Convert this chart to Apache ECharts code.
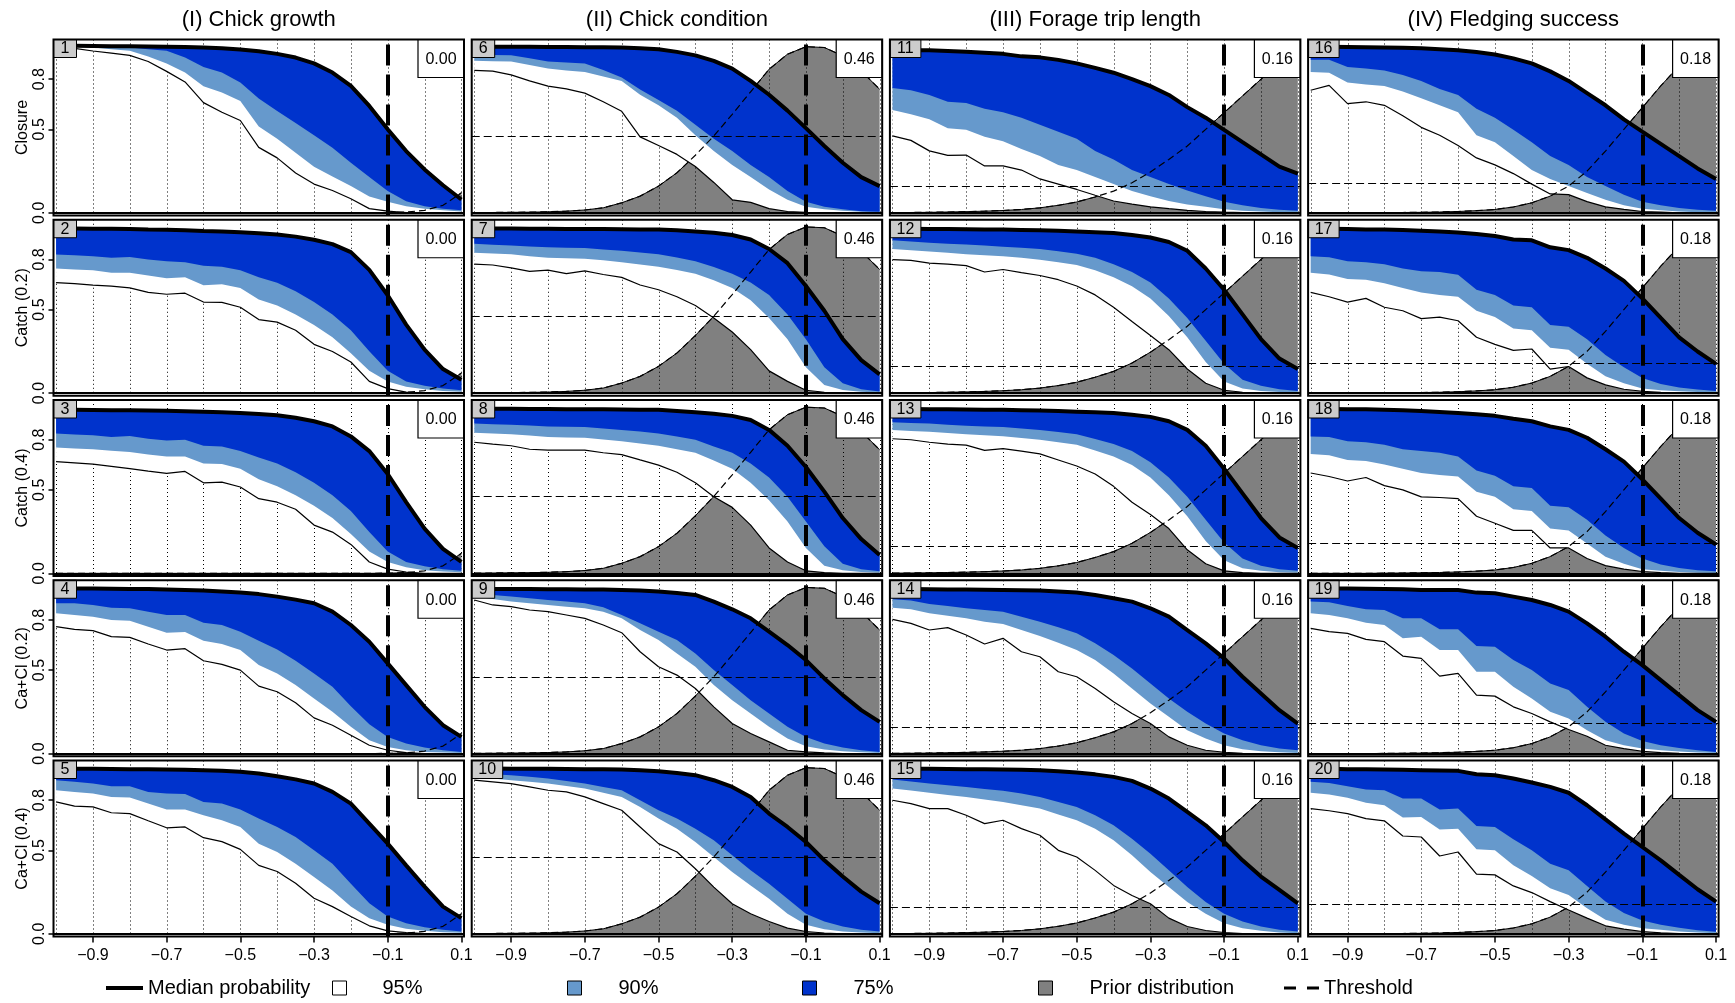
<!DOCTYPE html>
<html><head><meta charset="utf-8">
<script src="https://cdn.jsdelivr.net/npm/echarts@6/dist/echarts.min.js"></script>
<style>html,body{margin:0;padding:0;background:#fff}#chart{width:1735px;height:1003px}</style>
</head><body><div id="chart"></div>
<script>
// ---------- data ----------
const xValues = [-1.0,-0.95,-0.9,-0.85,-0.8,-0.75,-0.7,-0.65,-0.6,-0.55,-0.5,-0.45,-0.4,-0.35,-0.3,-0.25,-0.2,-0.15,-0.1,-0.05,0.0,0.05,0.1];
const columnTitles = ['(I) Chick growth','(II) Chick condition','(III) Forage trip length','(IV) Fledging success'];
const rowLabels = ['Closure','Catch (0.2)','Catch (0.4)','Ca+Cl (0.2)','Ca+Cl (0.4)'];
const boxValues = [0.00, 0.46, 0.16, 0.18];
const thresholdX = -0.1;
const xTickValues = [-0.9,-0.7,-0.5,-0.3,-0.1,0.1];
const yTickValues = [0, 0.5, 0.8];
const gridLineX = [-1.0,-0.9,-0.8,-0.7,-0.6,-0.5,-0.4,-0.3,-0.2,-0.1,0.0,0.1];

const prior1 = [0,0,0,0,0,0,0,0,0,0,0,0,0,0,0,0,0,0,0.001,0.004,0.015,0.045,0.12];
const prior2 = [0.001,0.002,0.003,0.004,0.006,0.01,0.017,0.03,0.06,0.1,0.16,0.24,0.345,0.46,0.59,0.725,0.86,0.95,0.995,0.99,0.94,0.85,0.74];
const prior3 = [0.001,0.002,0.003,0.005,0.007,0.01,0.014,0.02,0.03,0.045,0.065,0.095,0.13,0.18,0.245,0.32,0.4,0.5,0.6,0.7,0.8,0.9,1.0];
const prior4 = [0,0,0,0,0.001,0.002,0.003,0.005,0.008,0.013,0.02,0.035,0.06,0.1,0.16,0.25,0.37,0.5,0.63,0.76,0.88,0.97,1.0];

// (I) Chick growth
const p1_med = [1.0,1.0,0.999,0.998,0.997,0.996,0.995,0.993,0.99,0.985,0.978,0.967,0.952,0.93,0.895,0.84,0.76,0.64,0.5,0.37,0.26,0.165,0.08];
const p1_lo75 = [1.0,0.999,0.997,0.993,0.99,0.98,0.97,0.93,0.873,0.84,0.78,0.685,0.61,0.538,0.465,0.39,0.30,0.214,0.13,0.07,0.04,0.025,0.015];
const p1_lo90 = [1.0,0.995,0.99,0.98,0.97,0.936,0.894,0.84,0.758,0.72,0.67,0.517,0.444,0.36,0.276,0.218,0.161,0.098,0.067,0.04,0.025,0.015,0.008];
const p1_lo95 = [1.0,0.985,0.969,0.956,0.943,0.906,0.847,0.784,0.66,0.602,0.553,0.392,0.329,0.239,0.172,0.134,0.084,0.025,0.01,0.002,0,0,0];

const p2_med = [0.985,0.985,0.984,0.984,0.983,0.98,0.978,0.975,0.97,0.967,0.963,0.957,0.949,0.937,0.918,0.892,0.844,0.738,0.586,0.41,0.26,0.144,0.08];
const p2_lo75 = [0.83,0.825,0.82,0.81,0.815,0.8,0.79,0.784,0.763,0.757,0.736,0.693,0.66,0.61,0.545,0.47,0.376,0.25,0.133,0.07,0.044,0.027,0.017];
const p2_lo90 = [0.746,0.74,0.736,0.72,0.72,0.704,0.687,0.693,0.645,0.651,0.63,0.56,0.524,0.47,0.408,0.334,0.239,0.133,0.07,0.038,0.023,0.013,0.008];
const p2_lo95 = [0.662,0.655,0.647,0.64,0.63,0.603,0.592,0.598,0.545,0.543,0.514,0.44,0.425,0.376,0.292,0.249,0.186,0.07,0.027,0.006,0,0,0];

const p3_med = [0.979,0.979,0.978,0.977,0.976,0.975,0.973,0.971,0.968,0.964,0.96,0.954,0.947,0.932,0.911,0.88,0.82,0.732,0.595,0.426,0.268,0.146,0.068];
const p3_lo75 = [0.838,0.832,0.827,0.816,0.823,0.806,0.795,0.8,0.764,0.76,0.732,0.694,0.658,0.605,0.542,0.468,0.373,0.247,0.131,0.068,0.042,0.025,0.015];
const p3_lo90 = [0.753,0.748,0.743,0.734,0.726,0.711,0.7,0.7,0.658,0.654,0.627,0.563,0.521,0.468,0.405,0.331,0.236,0.131,0.068,0.036,0.019,0.011,0.006];
const p3_lo95 = [0.669,0.662,0.654,0.641,0.627,0.612,0.599,0.61,0.542,0.546,0.517,0.447,0.426,0.384,0.289,0.247,0.173,0.068,0.025,0.008,0,0,0];

const p4_med = [0.99,0.989,0.988,0.987,0.986,0.985,0.983,0.98,0.976,0.971,0.964,0.955,0.94,0.922,0.9,0.85,0.77,0.67,0.54,0.41,0.28,0.17,0.1];
const p4_lo75 = [0.9,0.9,0.89,0.874,0.87,0.85,0.83,0.83,0.784,0.77,0.73,0.676,0.624,0.556,0.48,0.4,0.284,0.176,0.1,0.06,0.036,0.02,0.01];
const p4_lo90 = [0.84,0.83,0.82,0.8,0.796,0.76,0.724,0.728,0.676,0.656,0.62,0.53,0.48,0.41,0.33,0.25,0.16,0.08,0.04,0.02,0.01,0.006,0.004];
const p4_lo95 = [0.76,0.744,0.736,0.7,0.696,0.656,0.62,0.628,0.556,0.534,0.5,0.404,0.37,0.304,0.214,0.17,0.11,0.05,0.02,0.006,0,0,0];

const p5_med = [0.99,0.989,0.988,0.987,0.986,0.985,0.984,0.982,0.98,0.976,0.97,0.96,0.944,0.925,0.9,0.85,0.78,0.66,0.54,0.41,0.283,0.163,0.094];
const p5_lo75 = [0.92,0.91,0.9,0.884,0.884,0.85,0.84,0.837,0.79,0.78,0.745,0.69,0.64,0.58,0.5,0.42,0.3,0.183,0.104,0.064,0.04,0.024,0.014];
const p5_lo90 = [0.86,0.85,0.84,0.82,0.817,0.78,0.745,0.745,0.71,0.68,0.64,0.54,0.49,0.42,0.34,0.26,0.163,0.094,0.054,0.03,0.018,0.01,0.006];
const p5_lo95 = [0.79,0.765,0.76,0.725,0.72,0.677,0.635,0.64,0.576,0.552,0.506,0.41,0.373,0.303,0.213,0.163,0.104,0.048,0.018,0.008,0.002,0,0];

// (II) Chick condition
const p6_med = [0.994,0.994,0.994,0.994,0.993,0.993,0.992,0.991,0.99,0.986,0.98,0.964,0.943,0.91,0.864,0.79,0.707,0.612,0.507,0.4,0.3,0.214,0.16];
const p6_lo75 = [0.947,0.945,0.943,0.925,0.906,0.9,0.895,0.855,0.811,0.738,0.675,0.612,0.528,0.444,0.371,0.287,0.214,0.13,0.067,0.036,0.021,0.01,0.006];
const p6_lo90 = [0.91,0.908,0.906,0.885,0.864,0.853,0.843,0.816,0.79,0.707,0.644,0.57,0.465,0.371,0.287,0.214,0.14,0.078,0.036,0.021,0.013,0.006,0.004];
const p6_lo95 = [0.853,0.849,0.826,0.79,0.759,0.742,0.717,0.665,0.608,0.455,0.403,0.35,0.277,0.182,0.078,0.063,0.025,0.008,0.003,0.001,0,0,0];

const p7_med = [0.985,0.985,0.985,0.984,0.984,0.983,0.983,0.982,0.981,0.98,0.979,0.975,0.968,0.96,0.947,0.92,0.863,0.778,0.641,0.493,0.323,0.197,0.112];
const p7_lo75 = [0.894,0.889,0.884,0.878,0.873,0.871,0.869,0.86,0.852,0.842,0.831,0.812,0.789,0.755,0.715,0.662,0.588,0.471,0.323,0.154,0.059,0.023,0.01];
const p7_lo90 = [0.841,0.836,0.831,0.82,0.81,0.807,0.805,0.795,0.784,0.77,0.757,0.737,0.715,0.675,0.63,0.556,0.45,0.323,0.154,0.049,0.019,0.008,0.004];
const p7_lo95 = [0.772,0.767,0.75,0.729,0.736,0.715,0.732,0.71,0.693,0.647,0.619,0.577,0.524,0.45,0.366,0.26,0.133,0.07,0.017,0.005,0,0,0];

const p8_med = [0.985,0.985,0.985,0.984,0.984,0.983,0.983,0.982,0.981,0.98,0.979,0.972,0.964,0.955,0.943,0.918,0.859,0.764,0.637,0.489,0.331,0.205,0.11];
const p8_lo75 = [0.897,0.893,0.89,0.885,0.88,0.878,0.876,0.868,0.859,0.849,0.838,0.82,0.8,0.76,0.722,0.658,0.574,0.458,0.31,0.162,0.057,0.025,0.013];
const p8_lo90 = [0.842,0.837,0.833,0.825,0.816,0.814,0.812,0.802,0.791,0.778,0.764,0.743,0.722,0.675,0.627,0.542,0.437,0.31,0.152,0.046,0.019,0.008,0.004];
const p8_lo95 = [0.785,0.774,0.764,0.743,0.738,0.738,0.738,0.722,0.711,0.679,0.648,0.605,0.542,0.458,0.395,0.289,0.152,0.068,0.015,0.004,0,0,0];

const p9_med = [0.986,0.986,0.985,0.985,0.984,0.984,0.983,0.982,0.98,0.976,0.97,0.962,0.95,0.91,0.864,0.81,0.73,0.65,0.56,0.45,0.35,0.26,0.19];
const p9_lo75 = [0.96,0.95,0.94,0.93,0.92,0.91,0.9,0.876,0.83,0.78,0.73,0.68,0.6,0.5,0.41,0.32,0.24,0.16,0.1,0.06,0.036,0.02,0.01];
const p9_lo90 = [0.94,0.925,0.91,0.9,0.89,0.88,0.87,0.85,0.81,0.74,0.68,0.6,0.52,0.41,0.32,0.24,0.16,0.09,0.044,0.024,0.014,0.008,0.004];
const p9_lo95 = [0.92,0.89,0.88,0.86,0.85,0.83,0.81,0.77,0.724,0.61,0.52,0.47,0.39,0.28,0.18,0.12,0.07,0.02,0.01,0.004,0,0,0];

const p10_med = [0.99,0.99,0.989,0.989,0.988,0.987,0.986,0.985,0.984,0.98,0.974,0.963,0.95,0.92,0.88,0.82,0.72,0.64,0.55,0.44,0.343,0.253,0.183];
const p10_lo75 = [0.96,0.955,0.95,0.94,0.93,0.915,0.9,0.88,0.86,0.8,0.74,0.69,0.63,0.56,0.47,0.38,0.3,0.21,0.12,0.074,0.044,0.024,0.014];
const p10_lo90 = [0.94,0.93,0.92,0.91,0.9,0.885,0.87,0.845,0.82,0.76,0.69,0.63,0.55,0.46,0.37,0.29,0.21,0.12,0.054,0.028,0.014,0.008,0.004];
const p10_lo95 = [0.92,0.91,0.9,0.88,0.86,0.85,0.82,0.78,0.74,0.64,0.54,0.49,0.39,0.28,0.18,0.12,0.074,0.034,0.014,0.005,0,0,0];

// (III) Forage trip length
const p11_med = [0.973,0.973,0.973,0.969,0.964,0.958,0.952,0.937,0.931,0.916,0.895,0.868,0.839,0.801,0.759,0.706,0.633,0.57,0.497,0.423,0.35,0.277,0.235];
const p11_lo75 = [0.748,0.734,0.706,0.665,0.658,0.623,0.602,0.57,0.528,0.486,0.444,0.371,0.319,0.256,0.214,0.172,0.134,0.099,0.067,0.046,0.029,0.019,0.013];
const p11_lo90 = [0.616,0.591,0.56,0.507,0.497,0.455,0.428,0.382,0.34,0.287,0.256,0.214,0.172,0.13,0.099,0.071,0.05,0.036,0.021,0.013,0.008,0.004,0.002];
const p11_lo95 = [0.461,0.434,0.371,0.344,0.346,0.281,0.281,0.256,0.203,0.172,0.14,0.105,0.071,0.052,0.036,0.025,0.015,0.008,0.004,0.002,0,0,0];

const p12_med = [0.985,0.984,0.983,0.982,0.981,0.98,0.979,0.977,0.975,0.972,0.968,0.963,0.958,0.947,0.932,0.905,0.852,0.746,0.619,0.471,0.323,0.207,0.144];
const p12_lo75 = [0.915,0.908,0.9,0.895,0.89,0.884,0.877,0.87,0.863,0.85,0.835,0.81,0.772,0.725,0.662,0.567,0.45,0.313,0.175,0.08,0.044,0.023,0.013];
const p12_lo90 = [0.863,0.856,0.848,0.84,0.831,0.826,0.82,0.81,0.799,0.784,0.767,0.736,0.693,0.64,0.567,0.461,0.334,0.186,0.07,0.027,0.013,0.006,0.004];
const p12_lo95 = [0.799,0.795,0.778,0.772,0.763,0.725,0.74,0.721,0.704,0.679,0.641,0.588,0.514,0.429,0.345,0.26,0.144,0.059,0.017,0.005,0,0,0];

const p13_med = [0.985,0.984,0.983,0.982,0.981,0.98,0.979,0.977,0.975,0.972,0.968,0.964,0.96,0.949,0.937,0.911,0.859,0.764,0.627,0.479,0.331,0.215,0.152];
const p13_lo75 = [0.905,0.901,0.897,0.89,0.884,0.88,0.876,0.868,0.859,0.846,0.833,0.805,0.774,0.732,0.665,0.574,0.458,0.321,0.184,0.089,0.046,0.025,0.015];
const p13_lo90 = [0.859,0.853,0.848,0.84,0.833,0.827,0.821,0.81,0.8,0.785,0.77,0.735,0.7,0.648,0.574,0.468,0.342,0.194,0.078,0.03,0.015,0.006,0.004];
const p13_lo95 = [0.806,0.8,0.785,0.774,0.768,0.736,0.747,0.732,0.715,0.679,0.643,0.595,0.521,0.426,0.352,0.268,0.141,0.057,0.015,0.004,0,0,0];

const p14_med = [0.986,0.985,0.984,0.983,0.982,0.981,0.98,0.978,0.976,0.971,0.964,0.95,0.93,0.91,0.87,0.82,0.74,0.66,0.57,0.46,0.36,0.26,0.18];
const p14_lo75 = [0.924,0.916,0.896,0.884,0.87,0.86,0.85,0.82,0.79,0.756,0.72,0.66,0.59,0.51,0.42,0.33,0.25,0.18,0.12,0.08,0.05,0.03,0.02];
const p14_lo90 = [0.874,0.864,0.84,0.826,0.81,0.79,0.776,0.74,0.704,0.664,0.62,0.56,0.48,0.39,0.3,0.22,0.14,0.09,0.05,0.026,0.014,0.008,0.004];
const p14_lo95 = [0.804,0.78,0.74,0.754,0.71,0.656,0.69,0.61,0.58,0.49,0.46,0.39,0.31,0.24,0.18,0.1,0.05,0.02,0.008,0.002,0,0,0];

const p15_med = [0.99,0.989,0.988,0.987,0.986,0.985,0.984,0.982,0.98,0.974,0.966,0.955,0.94,0.916,0.87,0.81,0.73,0.65,0.55,0.44,0.343,0.263,0.183];
const p15_lo75 = [0.924,0.912,0.9,0.89,0.88,0.868,0.857,0.84,0.82,0.79,0.76,0.71,0.65,0.57,0.48,0.38,0.28,0.19,0.12,0.074,0.044,0.024,0.014];
const p15_lo90 = [0.87,0.858,0.845,0.832,0.82,0.805,0.79,0.77,0.75,0.715,0.68,0.63,0.56,0.47,0.37,0.28,0.19,0.12,0.064,0.034,0.018,0.008,0.004];
const p15_lo95 = [0.8,0.78,0.75,0.75,0.71,0.66,0.68,0.63,0.59,0.5,0.46,0.38,0.29,0.23,0.18,0.094,0.044,0.02,0.008,0.002,0,0,0];

// (IV) Fledging success
const p16_med = [0.994,0.994,0.993,0.992,0.99,0.988,0.985,0.98,0.973,0.963,0.948,0.925,0.895,0.847,0.79,0.717,0.644,0.56,0.486,0.413,0.34,0.266,0.203];
const p16_lo75 = [0.916,0.916,0.874,0.864,0.853,0.826,0.79,0.742,0.706,0.623,0.57,0.497,0.423,0.34,0.287,0.214,0.161,0.109,0.067,0.046,0.029,0.019,0.013];
const p16_lo90 = [0.843,0.839,0.78,0.769,0.759,0.727,0.686,0.644,0.602,0.465,0.423,0.34,0.256,0.203,0.161,0.119,0.078,0.046,0.025,0.015,0.008,0.004,0.002];
const p16_lo95 = [0.734,0.763,0.654,0.665,0.644,0.581,0.512,0.465,0.403,0.329,0.287,0.235,0.172,0.113,0.109,0.067,0.036,0.021,0.008,0.004,0,0,0];

const p17_med = [0.985,0.984,0.982,0.98,0.979,0.976,0.972,0.967,0.962,0.953,0.941,0.92,0.915,0.873,0.856,0.81,0.746,0.672,0.567,0.45,0.334,0.249,0.175];
const p17_lo75 = [0.82,0.814,0.789,0.784,0.772,0.746,0.729,0.725,0.708,0.619,0.588,0.524,0.514,0.408,0.397,0.323,0.228,0.154,0.091,0.055,0.034,0.021,0.013];
const p17_lo90 = [0.721,0.71,0.683,0.679,0.658,0.63,0.603,0.588,0.577,0.493,0.455,0.387,0.376,0.271,0.26,0.175,0.101,0.059,0.027,0.017,0.011,0.006,0.004];
const p17_lo95 = [0.603,0.577,0.545,0.567,0.514,0.493,0.446,0.455,0.433,0.334,0.292,0.256,0.264,0.144,0.159,0.091,0.049,0.023,0.011,0.004,0,0,0];

const p18_med = [0.985,0.984,0.983,0.982,0.979,0.976,0.972,0.966,0.96,0.952,0.943,0.926,0.911,0.88,0.859,0.812,0.743,0.669,0.563,0.447,0.331,0.243,0.173];
const p18_lo75 = [0.82,0.816,0.791,0.785,0.77,0.743,0.732,0.722,0.7,0.616,0.584,0.521,0.511,0.405,0.395,0.321,0.226,0.152,0.089,0.053,0.032,0.019,0.013];
const p18_lo90 = [0.715,0.707,0.679,0.673,0.652,0.627,0.601,0.589,0.58,0.489,0.458,0.384,0.373,0.268,0.257,0.179,0.099,0.057,0.025,0.015,0.008,0.004,0.002];
const p18_lo95 = [0.601,0.58,0.553,0.574,0.525,0.5,0.458,0.454,0.447,0.342,0.3,0.257,0.257,0.152,0.152,0.089,0.046,0.025,0.011,0.004,0,0,0];

const p19_med = [0.99,0.989,0.988,0.987,0.986,0.984,0.98,0.98,0.98,0.964,0.96,0.94,0.92,0.89,0.85,0.78,0.7,0.61,0.53,0.44,0.35,0.26,0.19];
const p19_lo75 = [0.91,0.906,0.884,0.864,0.86,0.81,0.81,0.744,0.744,0.644,0.64,0.56,0.5,0.42,0.38,0.28,0.19,0.12,0.076,0.05,0.034,0.02,0.01];
const p19_lo90 = [0.84,0.83,0.81,0.784,0.77,0.69,0.7,0.62,0.62,0.49,0.49,0.4,0.33,0.25,0.21,0.14,0.08,0.05,0.03,0.02,0.012,0.006,0.004];
const p19_lo95 = [0.75,0.73,0.72,0.684,0.67,0.584,0.57,0.464,0.48,0.35,0.344,0.28,0.24,0.19,0.144,0.104,0.05,0.03,0.014,0.006,0.002,0,0];

const p20_med = [0.99,0.988,0.986,0.985,0.984,0.982,0.98,0.978,0.976,0.956,0.95,0.93,0.906,0.88,0.845,0.77,0.685,0.6,0.52,0.44,0.353,0.267,0.193];
const p20_lo75 = [0.91,0.904,0.884,0.865,0.86,0.81,0.81,0.745,0.75,0.645,0.64,0.566,0.5,0.42,0.38,0.287,0.193,0.124,0.08,0.054,0.036,0.022,0.012];
const p20_lo90 = [0.845,0.835,0.815,0.785,0.77,0.697,0.7,0.625,0.63,0.506,0.5,0.41,0.346,0.273,0.233,0.153,0.084,0.054,0.034,0.024,0.014,0.008,0.004];
const p20_lo95 = [0.75,0.737,0.72,0.69,0.677,0.586,0.58,0.466,0.49,0.357,0.353,0.287,0.247,0.193,0.143,0.094,0.048,0.028,0.014,0.006,0.002,0,0];

// ---------- assembly ----------
const priors = [prior1, prior2, prior3, prior4];
const panels = [
  [p1_med,p1_lo75,p1_lo90,p1_lo95],[p2_med,p2_lo75,p2_lo90,p2_lo95],[p3_med,p3_lo75,p3_lo90,p3_lo95],[p4_med,p4_lo75,p4_lo90,p4_lo95],[p5_med,p5_lo75,p5_lo90,p5_lo95],
  [p6_med,p6_lo75,p6_lo90,p6_lo95],[p7_med,p7_lo75,p7_lo90,p7_lo95],[p8_med,p8_lo75,p8_lo90,p8_lo95],[p9_med,p9_lo75,p9_lo90,p9_lo95],[p10_med,p10_lo75,p10_lo90,p10_lo95],
  [p11_med,p11_lo75,p11_lo90,p11_lo95],[p12_med,p12_lo75,p12_lo90,p12_lo95],[p13_med,p13_lo75,p13_lo90,p13_lo95],[p14_med,p14_lo75,p14_lo90,p14_lo95],[p15_med,p15_lo75,p15_lo90,p15_lo95],
  [p16_med,p16_lo75,p16_lo90,p16_lo95],[p17_med,p17_lo75,p17_lo90,p17_lo95],[p18_med,p18_lo75,p18_lo90,p18_lo95],[p19_med,p19_lo75,p19_lo90,p19_lo95],[p20_med,p20_lo75,p20_lo90,p20_lo95]
];

const FONT = '"Liberation Sans", Arial, Helvetica, sans-serif';
const COL_DARK = '#0033CC', COL_LIGHT = '#6699CC', COL_PRIOR = '#808080', COL_NUM = '#CCCCCC';
const xMin = -1.007, xMax = 0.107, yMin = -0.016, yMax = 1.038;
const L0 = 53.5, CP = 418.2, GW = 410.5, T0 = 39.5, RP = 180.25, GH = 176;

const pts = arr => xValues.map((x, i) => [x, arr[i]]);
const fmtX = v => { const s = Math.abs(v).toFixed(1); return v < -1e-9 ? '\u2212' + s : s; };

function gridRender(params, api) {
  const children = gridLineX.map(x => {
    const a = api.coord([x, yMax]), b = api.coord([x, yMin]);
    const px = Math.round(a[0]) + 0.5;
    return { type: 'line', shape: { x1: px, y1: a[1], x2: px, y2: b[1] },
      style: { stroke: '#000', lineWidth: 1, lineDash: [1, 3] } };
  });
  return { type: 'group', children };
}
function bandRender(lower, upper, color) {
  return function (params, api) {
    const points = [];
    for (let i = 0; i < xValues.length; i++) points.push(api.coord([xValues[i], lower[i]]));
    for (let i = xValues.length - 1; i >= 0; i--) points.push(api.coord([xValues[i], upper[i]]));
    return { type: 'polygon', shape: { points }, style: { fill: color } };
  };
}
function frameRender(panelNo, valText) {
  return function (params, api) {
    const tl = api.coord([xMin, yMax]), br = api.coord([xMax, yMin]);
    const x0 = tl[0], y0 = tl[1], x1 = br[0], y1 = br[1];
    const label = String(panelNo);
    const nw = label.length === 1 ? 23 : 31;
    return { type: 'group', children: [
      { type: 'rect', shape: { x: x0, y: y0, width: nw, height: 18 }, style: { fill: COL_NUM, stroke: '#000', lineWidth: 1 } },
      { type: 'text', style: { text: label, x: x0 + nw / 2, y: y0 + 9.5, align: 'center', verticalAlign: 'middle', fontSize: 16, fontFamily: FONT, fill: '#000' } },
      { type: 'rect', shape: { x: x1 - 46, y: y0, width: 46, height: 38 }, style: { fill: '#fff', stroke: '#000', lineWidth: 1.2 } },
      { type: 'text', style: { text: valText, x: x1 - 23, y: y0 + 20, align: 'center', verticalAlign: 'middle', fontSize: 16, fontFamily: FONT, fill: '#000' } },
      { type: 'rect', shape: { x: x0, y: y0, width: x1 - x0, height: y1 - y0 }, style: { fill: 'none', stroke: '#000', lineWidth: 2 } }
    ] };
  };
}

const grids = [], xAxes = [], yAxes = [], series = [];
for (let c = 0; c < 4; c++) {
  for (let r = 0; r < 5; r++) {
    const idx = c * 5 + r;
    const [med, lo75, lo90, lo95] = panels[idx];
    const prior = priors[c];
    const thr = boxValues[c];
    grids.push({ left: L0 + c * CP, top: T0 + r * RP, width: GW, height: GH, containLabel: false, outerBoundsMode: 'none', show: false });
    xAxes.push({
      gridIndex: idx, type: 'value', min: xMin, max: xMax, position: 'bottom',
      axisLine: { show: false, onZero: false }, splitLine: { show: false }, minorTick: { show: false },
      axisTick: { show: r === 4, customValues: xTickValues, length: 6, lineStyle: { color: '#000', width: 1.5 } },
      axisLabel: { show: r === 4, customValues: xTickValues, formatter: fmtX, color: '#000', fontSize: 16, fontFamily: FONT, margin: 11 }
    });
    yAxes.push({
      gridIndex: idx, type: 'value', min: yMin, max: yMax, position: 'left',
      axisLine: { show: false, onZero: false }, splitLine: { show: false }, minorTick: { show: false },
      axisTick: { show: c === 0, customValues: yTickValues, length: 5, lineStyle: { color: '#000', width: 1.5 } },
      axisLabel: { show: c === 0, customValues: yTickValues, rotate: 90, formatter: v => v.toFixed(1), color: '#000', fontSize: 16, fontFamily: FONT, margin: 6 },
      name: c === 0 ? rowLabels[r] : '', nameLocation: 'middle', nameRotate: 90, nameGap: 15,
      nameTextStyle: { color: '#000', fontSize: 16, fontFamily: FONT }
    });
    const base = { xAxisIndex: idx, yAxisIndex: idx, silent: true, animation: false };
    series.push(Object.assign({}, base, { type: 'line', name: 'Prior distribution', data: pts(prior), symbol: 'none', z: 1,
      lineStyle: { color: '#000', width: 1 }, itemStyle: { color: COL_PRIOR }, areaStyle: { color: COL_PRIOR, opacity: 1 },
      markLine: { silent: true, symbol: ['none', 'none'], label: { show: false }, emphasis: { disabled: true }, animation: false,
        data: [{ yAxis: 0, lineStyle: { color: '#000', width: 2, type: 'solid' } }] } }));
    series.push(Object.assign({}, base, { type: 'custom', name: 'gridlines', z: 2, data: [[xValues[0], 0]], renderItem: gridRender }));
    series.push(Object.assign({}, base, { type: 'custom', name: '95%', z: 2, data: [[xValues[0], 0]], itemStyle: { color: '#FFFFFF' }, renderItem: bandRender(lo95, med, '#FFFFFF') }));
    series.push(Object.assign({}, base, { type: 'custom', name: '90%', z: 2, data: [[xValues[0], 0]], itemStyle: { color: COL_LIGHT }, renderItem: bandRender(lo90, med, COL_LIGHT) }));
    series.push(Object.assign({}, base, { type: 'custom', name: '75%', z: 2, data: [[xValues[0], 0]], itemStyle: { color: COL_DARK }, renderItem: bandRender(lo75, med, COL_DARK) }));
    series.push(Object.assign({}, base, { type: 'line', name: 'lower95', data: pts(lo95), symbol: 'none', z: 3, lineStyle: { color: '#000', width: 1.2 } }));
    series.push(Object.assign({}, base, { type: 'line', name: 'priorDash', data: pts(prior), symbol: 'none', z: 3, lineStyle: { color: '#000', width: 1.2, type: [7, 4] } }));
    series.push(Object.assign({}, base, { type: 'line', name: 'Median probability', data: pts(med), symbol: 'none', z: 3, itemStyle: { color: '#000' }, lineStyle: { color: '#000', width: 4 } }));
    series.push(Object.assign({}, base, { type: 'line', name: 'Threshold', data: [[thresholdX, thr]], symbol: 'none', showSymbol: false, z: 3, itemStyle: { color: '#000' }, lineStyle: { width: 0 },
      markLine: { silent: true, symbol: ['none', 'none'], label: { show: false }, emphasis: { disabled: true }, animation: false,
        data: [
          { yAxis: thr, lineStyle: { color: '#000', width: 1.2, type: [8, 4] } },
          { xAxis: thresholdX, lineStyle: { color: '#000', width: 4, type: [21, 9] } }
        ] } }));
    series.push(Object.assign({}, base, { type: 'custom', name: 'frame', z: 6, data: [[xValues[0], 0]], renderItem: frameRender(idx + 1, thr.toFixed(2)) }));
  }
}

const legendDefs = [
  { name: 'Median probability', left: 106, icon: 'rect', w: 37, h: 4, itemStyle: { color: '#000', borderWidth: 0 }, gap: 0 },
  { name: '95%', left: 332, icon: 'rect', w: 14, h: 14, itemStyle: { color: '#FFFFFF', borderColor: '#000', borderWidth: 1 }, gap: 31 },
  { name: '90%', left: 567, icon: 'rect', w: 14, h: 14, itemStyle: { color: COL_LIGHT, borderColor: '#000', borderWidth: 1 }, gap: 32 },
  { name: '75%', left: 802, icon: 'rect', w: 14, h: 14, itemStyle: { color: COL_DARK, borderColor: '#000', borderWidth: 1 }, gap: 32 },
  { name: 'Prior distribution', left: 1038, icon: 'rect', w: 14, h: 14, itemStyle: { color: COL_PRIOR, borderColor: '#000', borderWidth: 1 }, gap: 32 },
  { name: 'Threshold', left: 1284, icon: 'path://M0,0H12V3H0Z M23,0H35V3H23Z', w: 35, h: 3, itemStyle: { color: '#000', borderWidth: 0 }, gap: 0 }
];
const legends = legendDefs.map(d => ({
  left: d.left, top: 978, padding: 0, orient: 'horizontal', selectedMode: false,
  itemWidth: d.w, itemHeight: d.h,
  data: [{ name: d.name, icon: d.icon, itemStyle: d.itemStyle, lineStyle: { width: 0, opacity: 0 } }],
  formatter: d.gap ? '{g| }{name}' : '{name}',
  textStyle: { color: '#000', fontSize: 20, fontFamily: FONT, rich: { g: { width: d.gap } } }
}));

const titles = columnTitles.map((t, c) => ({
  text: t, left: L0 + c * CP + GW / 2, top: 9, textAlign: 'center', padding: 0,
  textStyle: { color: '#000', fontSize: 22, fontWeight: 'normal', fontFamily: FONT }
}));

const chart = echarts.init(document.getElementById('chart'), null, { renderer: 'canvas' });
chart.setOption({
  backgroundColor: '#FFFFFF',
  animation: false,
  textStyle: { fontFamily: FONT },
  title: titles,
  legend: legends,
  grid: grids,
  xAxis: xAxes,
  yAxis: yAxes,
  series: series
});
</script></body></html>
